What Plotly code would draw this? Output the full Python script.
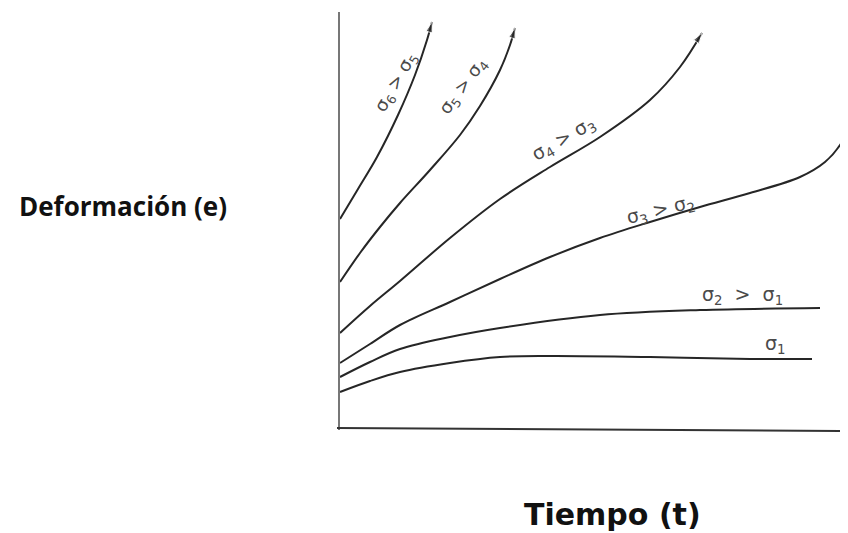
import plotly.graph_objects as go

# Hand-drawn creep curves: time t vs deformation e (arbitrary units)
t_s1 = [0, 30, 60, 110, 160, 210, 310, 410, 472]
e_s1 = [38, 49, 58, 67, 73, 74, 73, 71, 71]

t_s2 = [0, 30, 60, 110, 160, 260, 360, 480]
e_s2 = [53, 68, 81, 93, 102, 115, 120, 122]

t_s3 = [0, 30, 60, 110, 160, 210, 260, 310, 360, 410, 460, 485, 500, 512]
e_s3 = [67, 86, 105, 128, 151, 173, 192, 208, 223, 237, 253, 268, 285, 310]

t_s4 = [0, 30, 60, 110, 160, 210, 260, 310, 340, 362]
e_s4 = [97, 124, 149, 192, 231, 263, 293, 330, 363, 397]

t_s5 = [0, 20, 40, 60, 90, 120, 140, 160, 170, 175]
e_s5 = [148, 177, 203, 227, 260, 295, 324, 360, 385, 402]

t_s6 = [0, 18, 37, 58, 75, 87, 92]
e_s6 = [211, 241, 273, 315, 355, 390, 408]

NB = "\u00a0"
labels = ["σ<sub>1</sub>",
          f"σ<sub>2</sub>{NB}{NB}>{NB}{NB}σ<sub>1</sub>",
          f"σ<sub>3</sub>{NB}>{NB}σ<sub>2</sub>",
          f"σ<sub>4</sub>{NB}>{NB}σ<sub>3</sub>",
          f"σ<sub>5</sub>{NB}>{NB}σ<sub>4</sub>",
          f"σ<sub>6</sub>{NB}>{NB}σ<sub>5</sub>"]

curves = [(t_s1, e_s1, False), (t_s2, e_s2, False), (t_s3, e_s3, False),
          (t_s4, e_s4, True), (t_s5, e_s5, True), (t_s6, e_s6, True)]

LINE = "#262626"
fig = go.Figure()
for t, e, arrow in curves:
    fig.add_trace(go.Scatter(x=t, y=e, mode="lines", line=dict(color=LINE, width=2, shape="spline"),
                             hoverinfo="skip", showlegend=False))
    if arrow:
        fig.add_trace(go.Scatter(x=t[-2:], y=e[-2:], mode="markers",
                                 marker=dict(symbol="arrow", size=[0, 11], angleref="previous", color=LINE),
                                 hoverinfo="skip", showlegend=False))

# axes (drawn as lines)
fig.add_shape(type="line", x0=-1, y0=0, x1=-1, y1=418, line=dict(color="#777777", width=2))
fig.add_shape(type="line", x0=-3, y0=2, x1=510, y1=-1, line=dict(color="#333333", width=2))

# curve labels: (t, e, angle, size)
label_pos = [(435, 86, 0, 19), (402, 135, 0, 19), (320, 220, -14, 19),
             (223, 291, -30, 19), (123, 343, -53, 18), (56, 347, -60, 18)]
for lab, (x, y, ang, sz) in zip(labels, label_pos):
    fig.add_annotation(x=x, y=y, text=lab, showarrow=False, textangle=ang,
                       font=dict(family="DejaVu Sans", size=sz, color="#4a4a4a"))

W, H, OFF = 840, 525, 8  # page body has an 8px margin
fig.add_annotation(xref="paper", yref="paper", x=(123 - OFF) / W, y=1 - (206 - OFF) / H,
                   xanchor="center", yanchor="middle", text="<b>Deformación (e)</b>",
                   showarrow=False, font=dict(family="Open Sans", size=26, color="#111111"))
fig.add_annotation(xref="paper", yref="paper", x=(612 - OFF) / W, y=1 - (514 - OFF) / H,
                   xanchor="center", yanchor="middle", text="<b>Tiempo (t)</b>",
                   showarrow=False, font=dict(family="DejaVu Sans", size=30, color="#111111"))

fig.update_layout(width=W, height=H, margin=dict(l=0, r=0, t=0, b=0),
                  paper_bgcolor="white", plot_bgcolor="white",
                  xaxis=dict(range=[OFF - 340, 848 - 340], visible=False, fixedrange=True),
                  yaxis=dict(range=[430 - 533, 430 - OFF], visible=False, fixedrange=True))

fig.write_html("out.html")
